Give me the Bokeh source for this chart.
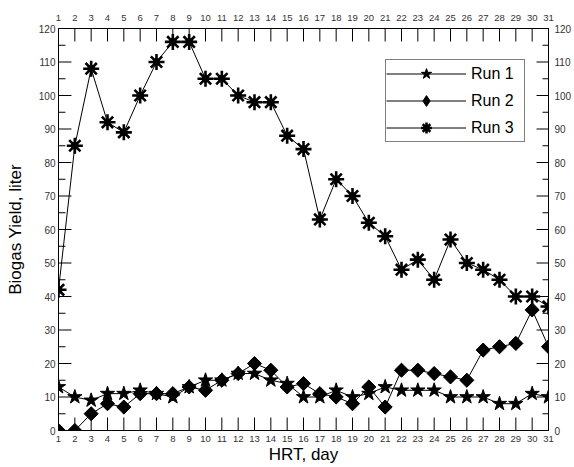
import numpy as np
from bokeh.plotting import figure
from bokeh.models import (FixedTicker, LinearAxis, Range1d,
                          Legend, LegendItem, ColumnDataSource)
from bokeh.embed import file_html
from bokeh.resources import INLINE

days = list(range(1, 32))
run1 = [13, 10, 9, 11, 11, 12, 11, 10, 13, 15, 15, 17, 17, 15, 14, 10,
        10, 12, 10, 11, 13, 12, 12, 12, 10, 10, 10, 8, 8, 11, 10]
run2 = [0, 0, 5, 8, 7, 11, 11, 11, 13, 12, 15, 17, 20, 18, 13, 14,
        11, 10, 8, 13, 7, 18, 18, 17, 16, 15, 24, 25, 26, 36, 25]
run3 = [42, 85, 108, 92, 89, 100, 110, 116, 116, 105, 105, 100, 98, 98, 88, 84,
        63, 75, 70, 62, 58, 48, 51, 45, 57, 50, 48, 45, 40, 40, 37]

y_major = [0, 10, 20, 30, 40, 50, 60, 70, 80, 90, 100, 110, 120]
y_minor = [5, 15, 25, 35, 45, 55, 65, 75, 85, 95, 105, 115]

x_label = "HRT, day"
y_label = "Biogas Yield, liter"
series_names = ["Run 1", "Run 2", "Run 3"]

FONT = "Liberation Sans"
TICK_COLOR = "#333333"

W, H = 574, 467
BL, BR, BT, BB = 58, 24, 28, 37
FRAME_W, FRAME_H = W - BL - BR, H - BT - BB

x_lo, x_hi = days[0], days[-1]
y_lo, y_hi = y_major[0], y_major[-1]

p = figure(width=W, height=H, output_backend="svg", toolbar_location=None,
           x_range=Range1d(x_lo, x_hi), y_range=Range1d(y_lo, y_hi),
           min_border_left=BL, min_border_right=BR, min_border_top=BT,
           min_border_bottom=BB, x_axis_location=None, y_axis_location=None)
p.xgrid.visible = False
p.ygrid.visible = False
p.outline_line_color = "black"
p.outline_line_width = 1
p.background_fill_color = "white"
p.border_fill_color = "white"


def style_axis(ax, font_size, standoff):
    ax.major_tick_in = 0
    ax.major_tick_out = 0
    ax.minor_tick_in = 0
    ax.minor_tick_out = 0
    ax.axis_line_color = "black"
    ax.major_label_text_font = FONT
    ax.major_label_text_font_size = font_size
    ax.major_label_text_color = TICK_COLOR
    ax.major_label_standoff = standoff
    ax.axis_label_standoff = 0
    ax.axis_label_text_font = FONT
    ax.axis_label_text_font_size = "17px"
    ax.axis_label_text_font_style = "normal"
    ax.axis_label_text_color = "black"


xt = FixedTicker(ticks=days, minor_ticks=[])
ax_b = LinearAxis(ticker=xt, axis_label=x_label)
style_axis(ax_b, "9.5px", 5)
p.add_layout(ax_b, "below")
ax_t = LinearAxis(ticker=xt)
style_axis(ax_t, "9.5px", 8)
p.add_layout(ax_t, "above")

yt = FixedTicker(ticks=y_major, minor_ticks=y_minor)
yl = LinearAxis(ticker=yt, axis_label=y_label)
style_axis(yl, "10px", 3)
yl.axis_label_standoff = 11
p.add_layout(yl, "left")

yr = LinearAxis(ticker=yt)
style_axis(yr, "10px", 6)
p.add_layout(yr, "right")

src = ColumnDataSource(dict(day=days, r1=run1, r2=run2, r3=run3))

l1 = p.line("day", "r1", source=src, line_color="black", line_width=1)
m1 = p.scatter("day", "r1", source=src, marker="star", size=15,
               fill_color="black", line_color="black")

l2 = p.line("day", "r2", source=src, line_color="black", line_width=1)
m2d = p.scatter("day", "r2", source=src, marker="diamond", size=13,
                fill_color="black", line_color="black")
m2 = p.scatter("day", "r2", source=src, marker="square", size=10, angle=np.pi / 4,
               fill_color="black", line_color="black")

l3 = p.line("day", "r3", source=src, line_color="black", line_width=1)
m3a = p.scatter("day", "r3", source=src, marker="asterisk", size=16,
                line_color="black", line_width=2.6)
m3b = p.scatter("day", "r3", source=src, marker="circle", size=7,
                fill_color="black", line_color="black")

# inward tick marks: one broken polyline (NaN separators) built from the tick lists,
# tick lengths given in pixels and converted to data units of the frame
px_x = (x_hi - x_lo) / FRAME_W
px_y = (y_hi - y_lo) / FRAME_H
tx, ty = [], []
for d in days:
    tx += [d, d, np.nan, d, d, np.nan]
    ty += [y_lo, y_lo + 13 * px_y, np.nan, y_hi, y_hi - 13 * px_y, np.nan]
for v in y_major:
    tx += [x_lo, x_lo + 13 * px_x, np.nan, x_hi, x_hi - 12 * px_x, np.nan]
    ty += [v, v, np.nan, v, v, np.nan]
for v in y_minor:
    tx += [x_lo, x_lo + 7 * px_x, np.nan, x_hi, x_hi - 6 * px_x, np.nan]
    ty += [v, v, np.nan, v, v, np.nan]
ticks_src = ColumnDataSource(dict(x=tx, y=ty))
p.line("x", "y", source=ticks_src, line_color="black", line_width=1)

legend = Legend(items=[
    LegendItem(label=series_names[0], renderers=[l1, m1]),
    LegendItem(label=series_names[1], renderers=[l2, m2d]),
    LegendItem(label=series_names[2], renderers=[l3, m3a]),
], location=(327, 288))
legend.glyph_width = 80
legend.glyph_height = 27
legend.label_height = 20
legend.label_width = 53
legend.spacing = 0
legend.padding = 0
legend.margin = 0
legend.label_standoff = 5
legend.label_text_font = FONT
legend.label_text_font_size = "16px"
legend.label_text_color = "black"
legend.border_line_color = "black"
legend.border_line_width = 1
legend.background_fill_alpha = 1
p.add_layout(legend, "center")

open("out.html", "w").write(file_html(p, INLINE))
